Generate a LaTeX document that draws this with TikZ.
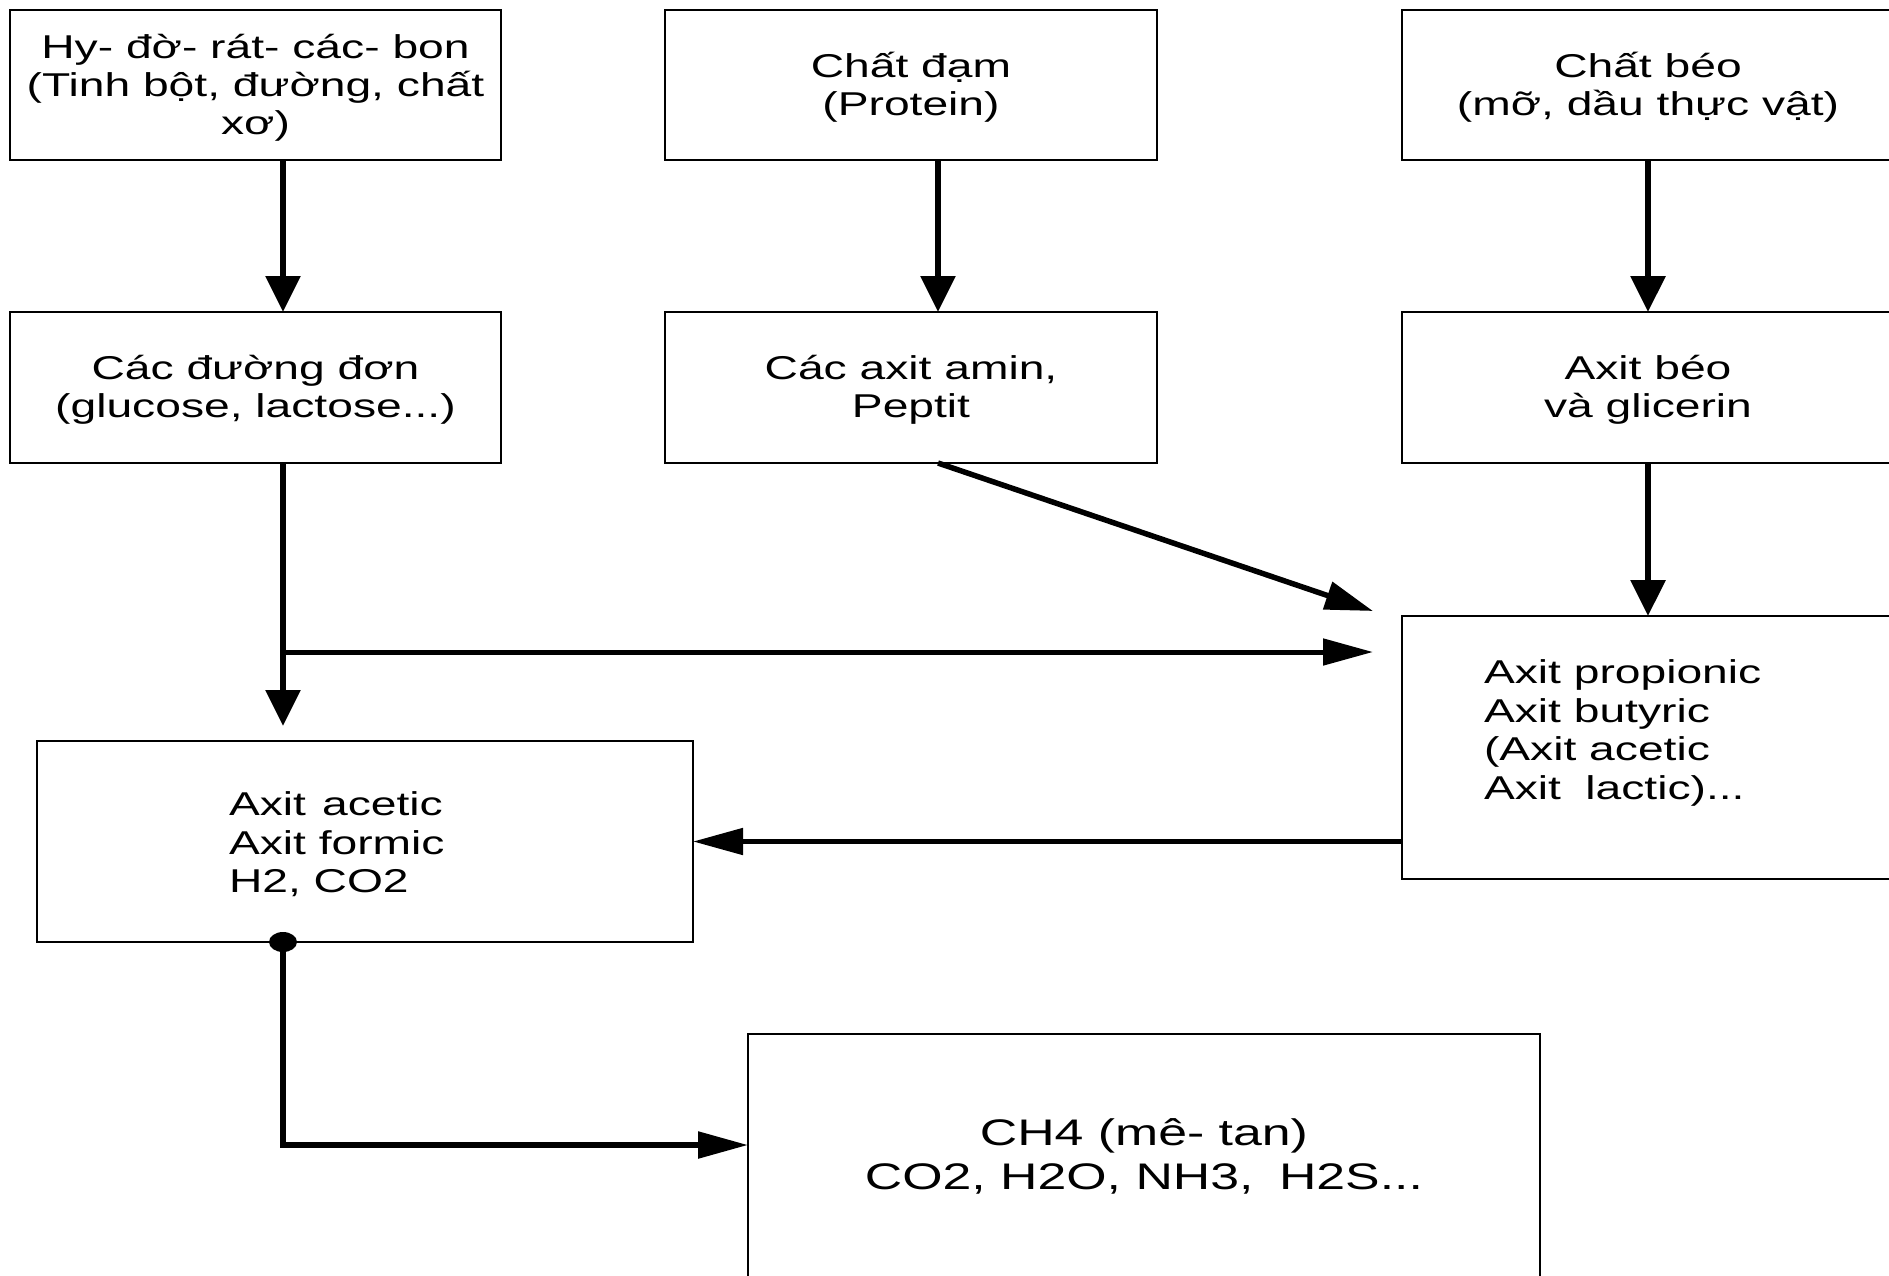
\documentclass[tikz,border=0pt]{standalone}
\usepackage{fontspec}
\setmainfont{Liberation Sans}[FakeStretch=1.4]
\usetikzlibrary{arrows.meta,calc}
\begin{document}
\begin{tikzpicture}[x=1pt,y=-1pt,
  box/.style={draw=black, line width=2pt, inner sep=0pt, outer sep=0pt},
  txt/.style={inner sep=0pt, outer sep=0pt, font=\fontsize{33}{38.5}\selectfont},
  ctxt/.style={txt, align=center, font=\fontsize{33}{38}\selectfont},
  varrow/.style={line width=6pt, -{Triangle[length=36pt,width=34pt]}},
  harrow/.style={line width=5pt, -{Triangle[length=50pt,width=26pt]}},
  darrow/.style={line width=5.5pt, -{Triangle[length=48pt,width=28pt]}},
]
\useasboundingbox (0,0) rectangle (1889,1275);
\fill[white] (0,0) rectangle (1889,1275);
\clip (0,0) rectangle (1889,1275);

% top row
\node[box, minimum width=491pt, minimum height=150pt] (b1) at (255.5,85) {};
\node[ctxt] (b1t) at (255.5,87.5) {Hy- đờ- rát- các- bon\\(Tinh bột, đường, chất\\xơ)};
\node[box, minimum width=492pt, minimum height=150pt] (b2) at (911,85) {};
\node[ctxt] (b2t) at (911,87.5) {Chất đạm\\(Protein)};
\node[box, minimum width=492pt, minimum height=150pt] (b3) at (1648,85) {};
\node[ctxt] (b3t) at (1648,87.5) {Chất béo\\(mỡ, dầu thực vật)};

% second row
\node[box, minimum width=491pt, minimum height=151pt] (b4) at (255.5,387.5) {};
\node[ctxt] (b4t) at (255.5,390) {Các đường đơn\\(glucose, lactose...)};
\node[box, minimum width=492pt, minimum height=151pt] (b5) at (911,387.5) {};
\node[ctxt] (b5t) at (911,390) {Các axit amin,\\Peptit};
\node[box, minimum width=492pt, minimum height=151pt] (b6) at (1648,387.5) {};
\node[ctxt] (b6t) at (1648,390) {Axit béo\\và glicerin};

% acids box (right)
\node[box, minimum width=492pt, minimum height=263pt] (b7) at (1648,747.5) {};
\node[txt, align=left, anchor=west] (b7t) at (1484,733)
  {Axit propionic\\Axit butyric\\(Axit acetic\\Axit\hspace{0.35em} lactic)...};

% acetic box (left)
\node[box, minimum width=656pt, minimum height=201pt] (b8) at (365,841.5) {};
\node[txt, align=left, anchor=west] (b8t) at (229,844.5)
  {Axit\hspace{0.1em} acetic\\Axit formic\\H2, CO2};

% methane box (bottom)
\node[box, minimum width=792pt, minimum height=266pt] (b9) at (1144,1167) {};
\node[txt, align=center, font=\fontsize{37}{44}\selectfont] (b9t) at (1144,1156)
  {CH4 (mê- tan)\\CO2, H2O, NH3,\hspace{0.3em} H2S...};

% helper coordinates
\coordinate (s4) at ([xshift=27.5pt]b4.south);
\coordinate (j1) at (283,652);
\coordinate (t8) at (283,726);
\coordinate (t7a) at (1373,611);
\coordinate (t7b) at (1373,652);
\coordinate (d8) at (b8.south -| s4);
\coordinate (k) at (283,1145);

% connectors
\draw[varrow] ([xshift=27.5pt]b1.south) -- ([xshift=27.5pt]b4.north);
\draw[varrow] ([xshift=27pt]b2.south) -- ([xshift=27pt]b5.north);
\draw[varrow] (b3.south) -- (b6.north);
\draw[varrow] (b6.south) -- (b7.north);
\draw[darrow] ([xshift=27pt]b5.south) -- (t7a);
\draw[varrow] (s4) -- (t8);
\draw[harrow] (j1) -- (t7b);
\draw[harrow] (b7.west |- b8.east) -- (b8.east);
\draw[harrow, line width=5.5pt, line join=miter] (d8) -- (k) -- (k -| b9.west);
\fill (d8) ellipse [x radius=14pt, y radius=10pt];
\end{tikzpicture}
\end{document}
